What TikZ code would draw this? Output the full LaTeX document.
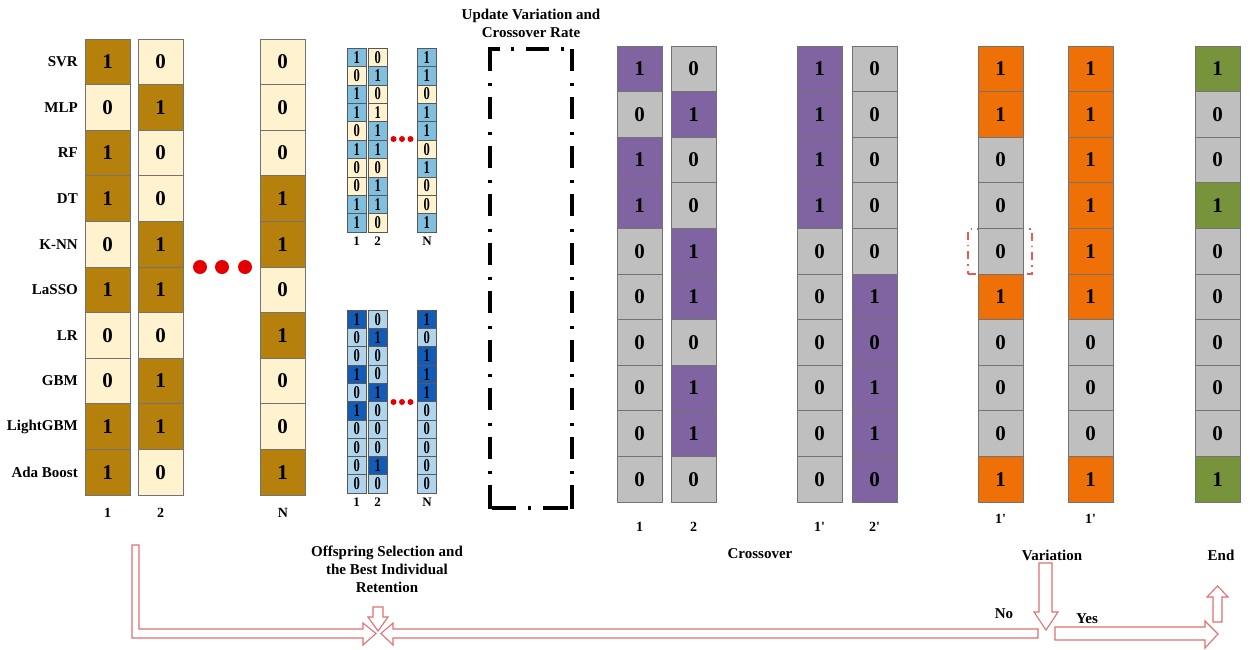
\documentclass[tikz,border=0pt]{standalone}
\usepackage{fontspec}
\setmainfont{Liberation Serif}
\definecolor{brn}{RGB}{181,128,12}
\definecolor{crm}{RGB}{255,242,206}
\definecolor{lb}{RGB}{128,192,222}
\definecolor{lbb}{RGB}{176,212,236}
\definecolor{db}{RGB}{18,92,184}
\definecolor{pur}{RGB}{128,100,162}
\definecolor{gry}{RGB}{191,191,191}
\definecolor{org}{RGB}{240,112,8}
\definecolor{grn}{RGB}{119,147,60}
\definecolor{dotred}{RGB}{228,0,0}
\definecolor{arr}{RGB}{226,112,112}
\newcommand\narrowdigit[1]{\scalebox{0.7}[1]{#1}}
\newcommand\plaindigit[1]{#1}
% #1 name, #2 left x, #3 top y, #4 width, #5 cell height, #6 style, #7 wrapper, #8 list
\newcommand\bitcol[8]{%
  \foreach \v/\cl [count=\i] in {#8} {
    \node[#6, fill=\cl, minimum width=#4, minimum height=#5] (#1-\i)
      at ({#2+#4/2},{#3+(\i-0.5)*#5}) {#7{\v}};
  }}
\begin{document}
\begin{tikzpicture}[x=1pt,y=-1pt,
  bigcell/.style={draw=black!55, line width=0.7pt, inner sep=0pt, outer sep=0pt,
     font=\fontsize{21}{21}\selectfont\bfseries},
  smallcell/.style={draw=black!65, line width=0.5pt, inner sep=0pt, outer sep=0pt,
     font=\fontsize{18}{18}\selectfont\bfseries},
  lbl/.style={font=\fontsize{15}{18}\selectfont\bfseries, inner sep=0pt},
  numlbl/.style={font=\fontsize{14}{16}\selectfont\bfseries, inner sep=0pt},
  smlbl/.style={font=\fontsize{13}{15}\selectfont\bfseries, inner sep=0pt},
  bigdot/.style={circle, fill=dotred, inner sep=0pt, minimum size=14pt},
  smdot/.style={circle, fill=dotred, inner sep=0pt, minimum size=6pt},
  flow/.style={draw=arr, line width=1.1pt, fill=white, line join=miter},
  ddred/.style={draw=arr!80!red, line width=1.2pt, dash pattern=on 8pt off 5pt on 1.5pt off 5pt}]
\useasboundingbox[fill=white] (0,0) rectangle (1250,649);

% ---------- row labels ----------
\foreach \t [count=\i] in {SVR,MLP,RF,DT,K-NN,LaSSO,LR,GBM,LightGBM,Ada Boost}
  \node[lbl, anchor=east] (row-\i) at (78,{39+(\i-0.5)*45.6}) {\t};

% ---------- initial population ----------
\bitcol{L1}{85}{39}{45}{45.6}{bigcell}{\plaindigit}{1/brn,0/crm,1/brn,1/brn,0/crm,1/brn,0/crm,0/crm,1/brn,1/brn}
\bitcol{L2}{138}{39}{45}{45.6}{bigcell}{\plaindigit}{0/crm,1/brn,0/crm,0/crm,1/brn,1/brn,0/crm,1/brn,1/brn,0/crm}
\bitcol{LN}{260}{39}{45}{45.6}{bigcell}{\plaindigit}{0/crm,0/crm,0/crm,1/brn,1/brn,0/crm,1/brn,0/crm,0/crm,1/brn}
\node[numlbl] (l1lab) at (107.5,513) {1};
\node[numlbl] (l2lab) at (160.5,513) {2};
\node[numlbl] (lnlab) at (283,513) {N};
\node[bigdot] (bd1) at (200,267) {};
\node[bigdot] (bd2) at (222,267) {};
\node[bigdot] (bd3) at (245,267) {};

% ---------- small populations (top) ----------
\bitcol{T1}{347}{48}{19.5}{18.4}{smallcell}{\narrowdigit}{1/lb,0/crm,1/lb,1/lb,0/crm,1/lb,0/crm,0/crm,1/lb,1/lb}
\bitcol{T2}{368}{48}{19.5}{18.4}{smallcell}{\narrowdigit}{0/crm,1/lb,0/crm,1/crm,1/lb,1/lb,0/crm,1/lb,1/lb,0/crm}
\bitcol{TN}{417}{48}{19.5}{18.4}{smallcell}{\narrowdigit}{1/lb,1/lb,0/crm,1/lb,1/lb,0/crm,1/lb,0/crm,0/crm,1/lb}
\node[smlbl] (t1lab) at (356.5,241) {1};
\node[smlbl] (t2lab) at (377.5,241) {2};
\node[smlbl] (tnlab) at (427,241) {N};
\node[smdot] (sd1) at (393.5,139) {};
\node[smdot] (sd2) at (402,139) {};
\node[smdot] (sd3) at (410.5,139) {};

% ---------- small populations (bottom) ----------
\bitcol{B1}{347}{310}{19.5}{18.3}{smallcell}{\narrowdigit}{1/db,0/lbb,0/lbb,1/db,0/lbb,1/db,0/lbb,0/lbb,0/lbb,0/lbb}
\bitcol{B2}{368}{310}{19.5}{18.3}{smallcell}{\narrowdigit}{0/lbb,1/db,0/lbb,0/lbb,1/db,0/lbb,0/lbb,0/lbb,1/db,0/lbb}
\bitcol{BN}{417}{310}{19.5}{18.3}{smallcell}{\narrowdigit}{1/db,0/lbb,1/db,1/db,1/db,0/lbb,0/lbb,0/lbb,0/lbb,0/lbb}
\node[smlbl] (b1lab) at (356.5,502) {1};
\node[smlbl] (b2lab) at (377.5,502) {2};
\node[smlbl] (bnlab) at (427,502) {N};
\node[smdot] (sd4) at (393.5,402) {};
\node[smdot] (sd5) at (402,402) {};
\node[smdot] (sd6) at (410.5,402) {};

% ---------- update rate box ----------
\node[lbl, align=center] (updtxt) at (531,23.5) {Update Variation and\\Crossover Rate};
\node[minimum width=82pt, minimum height=459pt, inner sep=0pt] (upd) at (531,278.5) {};

% ---------- crossover ----------
\bitcol{X1}{617}{46}{45}{45.6}{bigcell}{\plaindigit}{1/pur,0/gry,1/pur,1/pur,0/gry,0/gry,0/gry,0/gry,0/gry,0/gry}
\bitcol{X2}{671}{46}{45}{45.6}{bigcell}{\plaindigit}{0/gry,1/pur,0/gry,0/gry,1/pur,1/pur,0/gry,1/pur,1/pur,0/gry}
\bitcol{Y1}{797}{46}{45}{45.6}{bigcell}{\plaindigit}{1/pur,1/pur,1/pur,1/pur,0/gry,0/gry,0/gry,0/gry,0/gry,0/gry}
\bitcol{Y2}{852}{46}{45}{45.6}{bigcell}{\plaindigit}{0/gry,0/gry,0/gry,0/gry,0/gry,1/pur,0/pur,1/pur,1/pur,0/pur}
\node[numlbl] (x1lab) at (639.5,527) {1};
\node[numlbl] (x2lab) at (693.5,527) {2};
\node[numlbl] (y1lab) at (819.5,527) {1\textquotesingle};
\node[numlbl] (y2lab) at (874.5,527) {2\textquotesingle};
\node[lbl] (cross) at (760,554) {Crossover};

% ---------- variation ----------
\node[ddred, minimum width=64pt, minimum height=45pt, inner sep=0pt] (mut) at (1000,251.5) {};
\bitcol{V1}{978}{46}{45}{45.6}{bigcell}{\plaindigit}{1/org,1/org,0/gry,0/gry,0/gry,1/org,0/gry,0/gry,0/gry,1/org}
\bitcol{V2}{1068}{46}{45}{45.6}{bigcell}{\plaindigit}{1/org,1/org,1/org,1/org,1/org,1/org,0/gry,0/gry,0/gry,1/org}
\node[numlbl] (v1lab) at (1000.5,519) {1\textquotesingle};
\node[numlbl] (v2lab) at (1090.5,519) {1\textquotesingle};
\node[lbl] (var) at (1052,555) {Variation};

% ---------- end ----------
\bitcol{E}{1195}{46}{45}{45.6}{bigcell}{\plaindigit}{1/grn,0/gry,0/gry,1/grn,0/gry,0/gry,0/gry,0/gry,0/gry,1/grn}
\node[lbl] (endlab) at (1221,555) {End};

% ---------- offspring selection ----------
\node[lbl, align=center] (sel) at (387,569) {Offspring Selection and\\the Best Individual\\Retention};

% ---------- flow arrows ----------
\draw[flow] (132,545) -- (139,545) -- (139,629) -- (363,629) -- (363,623) -- (376,633.5)
  -- (363,645) -- (363,638) -- (132,638) -- cycle;
\draw[flow] (373,607) -- (383,607) -- (383,617) -- (388,617) -- (378,631) -- (368,617) -- (373,617) -- cycle;
\draw[flow] (1038,629) -- (393,629) -- (393,623) -- (381,633.5) -- (393,645) -- (393,638) -- (1038,638) -- cycle;
\draw[flow] (1039,563) -- (1052,563) -- (1052,612) -- (1058,612) -- (1046,630) -- (1034,612) -- (1039,612) -- cycle;
\draw[flow] (1055,627) -- (1205,627) -- (1205,621) -- (1218,634) -- (1205,648) -- (1205,640) -- (1055,640) -- cycle;
\draw[flow] (1213,622) -- (1213,597) -- (1207,597) -- (1217.5,586) -- (1228,597) -- (1222,597) -- (1222,622) -- cycle;
\node[lbl] (no) at (1004,614) {No};
\node[lbl] (yes) at (1087,619) {Yes};

% ---------- dash-dot frame of the update box, bars written out ----------
\foreach \xl/\xr in {488.4/491.6, 570.4/573.6} {
  \fill[black] (\xl,49) rectangle (\xr,71);
  \fill[black] (\xl,97) rectangle (\xr,119);
  \fill[black] (\xl,146) rectangle (\xr,168);
  \fill[black] (\xl,194) rectangle (\xr,216);
  \fill[black] (\xl,243) rectangle (\xr,265);
  \fill[black] (\xl,291) rectangle (\xr,313);
  \fill[black] (\xl,340) rectangle (\xr,362);
  \fill[black] (\xl,388) rectangle (\xr,410);
  \fill[black] (\xl,437) rectangle (\xr,459);
  \fill[black] (\xl,485) rectangle (\xr,509);
  \fill[black] (\xl,83) rectangle (\xr,86);
  \fill[black] (\xl,131.5) rectangle (\xr,134.5);
  \fill[black] (\xl,180) rectangle (\xr,183);
  \fill[black] (\xl,228.5) rectangle (\xr,231.5);
  \fill[black] (\xl,277) rectangle (\xr,280);
  \fill[black] (\xl,325.5) rectangle (\xr,328.5);
  \fill[black] (\xl,374) rectangle (\xr,377);
  \fill[black] (\xl,422.5) rectangle (\xr,425.5);
  \fill[black] (\xl,471) rectangle (\xr,474);
}
\fill[black] (488.4,47.4) rectangle (500,50.6);
\fill[black] (511,47.4) rectangle (514,50.6);
\fill[black] (526,47.4) rectangle (549,50.6);
\fill[black] (561,47.4) rectangle (564,50.6);
\fill[black] (492,506.4) rectangle (516,509.6);
\fill[black] (528,506.4) rectangle (531,509.6);
\fill[black] (543,506.4) rectangle (568,509.6);
\end{tikzpicture}
\end{document}
